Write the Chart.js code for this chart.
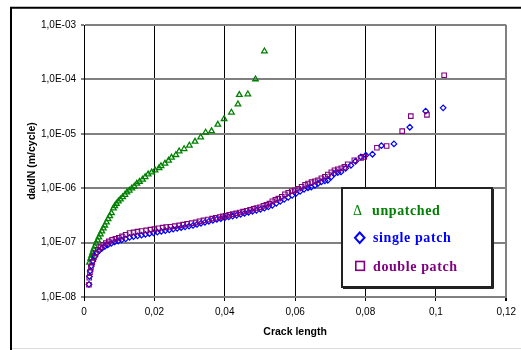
<!DOCTYPE html>
<html>
<head>
<meta charset="utf-8">
<script src="https://cdn.jsdelivr.net/npm/chart.js@4.4.0/dist/chart.umd.min.js"></script>
<style>
html,body{margin:0;padding:0;background:#fff;}
#wrap{position:relative;width:521px;height:350px;}
</style>
</head>
<body>
<div id="wrap"><canvas id="c" width="521" height="350"></canvas></div>
<script>
// ---- data ----
const seriesNames = ['unpatched', 'single patch', 'double patch'];

const unpatchedX = [0.00155,0.00189,0.00217,0.00245,0.00273,0.0031,0.00346,0.00386,0.00423,0.00465,0.00507,0.00549,0.00592,0.00639,0.00684,0.00732,0.0078,
  0.00837,0.00873,0.00921,0.00977,0.01034,0.01099,0.01163,0.0122,0.01287,0.0136,0.01428,0.01501,0.01577,0.01662,0.01738,0.01823,0.01924,0.0202,0.02132,0.02189,0.02301,0.02403,0.02487,0.02611,0.02704,
  0.02845,0.02994,0.03155,0.03316,0.03456,0.03625,0.03803,0.0398,0.04189,0.04375,0.04414,0.04656,0.04873,0.05127];
const unpatchedY = [4.3e-8,5.1e-8,5.8e-8,6.6e-8,7.5e-8,8.5e-8,9.7e-8,1.1e-7,1.25e-7,1.42e-7,1.61e-7,1.83e-7,2.07e-7,2.36e-7,2.71e-7,3.08e-7,3.49e-7,
  4.27e-7,4.7e-7,5.2e-7,5.74e-7,6.25e-7,6.9e-7,7.6e-7,8.4e-7,9.1e-7,9.95e-7,1.08e-6,1.22e-6,1.32e-6,1.44e-6,1.61e-6,1.8e-6,1.96e-6,2.14e-6,2.36e-6,2.56e-6,2.84e-6,3.22e-6,3.66e-6,4.09e-6,4.78e-6,
  5.27e-6,6.1e-6,7.2e-6,8.65e-6,1.06e-5,1.12e-5,1.48e-5,1.88e-5,2.47e-5,3.5e-5,5.2e-5,5.35e-5,1.01e-4,3.3e-4];

const singleX = [0.00141,0.00155,0.00177,0.00211,0.00254,0.0031,0.00366,0.00437,0.00507,0.00592,0.00676,0.00775,0.00873,0.00972,0.0107,0.01183,0.01296,0.01408,0.01521,0.01634,
  0.01746,0.01859,0.01972,0.02085,0.02197,0.0231,0.02423,0.02535,0.02648,0.02761,0.02873,0.02986,0.03099,0.03211,0.03324,0.03437,0.03549,0.03662,0.03775,0.03887,
  0.04,0.04113,0.04225,0.04338,0.04451,0.04563,0.04676,0.04789,0.04901,0.05014,0.05127,0.0524,0.05352,0.05465,0.05577,0.0569,0.05803,0.05915,0.06028,0.06141,
  0.06254,0.06366,0.06459,0.06563,0.06648,0.06746,0.06845,0.06929,0.07028,0.07118,0.07211,0.07304,0.07437,0.07586,0.07718,0.07868,0.08009,0.08197,0.08451,0.08808,
  0.09259,0.0971,0.10206];
const singleY = [1.7e-8,2.39e-8,3.01e-8,3.72e-8,4.6e-8,5.57e-8,6.46e-8,7.18e-8,7.82e-8,8.51e-8,9.08e-8,9.67e-8,1.03e-7,1.07e-7,1.12e-7,1.17e-7,1.25e-7,1.29e-7,1.33e-7,1.37e-7,
  1.42e-7,1.46e-7,1.51e-7,1.56e-7,1.61e-7,1.66e-7,1.71e-7,1.77e-7,1.83e-7,1.88e-7,1.95e-7,2.01e-7,2.07e-7,2.16e-7,2.26e-7,2.36e-7,2.46e-7,2.56e-7,2.67e-7,2.75e-7,
  2.85e-7,2.97e-7,3.08e-7,3.17e-7,3.31e-7,3.45e-7,3.6e-7,3.76e-7,3.92e-7,4.09e-7,4.3e-7,4.54e-7,4.84e-7,5.27e-7,5.74e-7,6.25e-7,6.8e-7,7.4e-7,8.05e-7,8.77e-7,
  9.55e-7,1.02e-6,1.05e-6,1.13e-6,1.22e-6,1.31e-6,1.37e-6,1.4e-6,1.62e-6,1.86e-6,1.94e-6,1.99e-6,2.32e-6,2.64e-6,3.13e-6,3.76e-6,4.04e-6,4.21e-6,6.04e-6,6.52e-6,
  1.32e-5,2.61e-5,3.0e-5];

const doubleX = [0.00141,0.00149,0.00169,0.00197,0.00234,0.00282,0.0033,0.00394,0.0047,0.00544,0.0062,0.00704,0.00797,0.00893,0.00986,0.01079,0.01183,0.01296,0.01408,0.01521,
  0.01634,0.01766,0.01887,0.02,0.02113,0.02234,0.02338,0.02451,0.02577,0.02704,0.02817,0.0293,0.03056,0.03175,0.03282,0.03394,0.03521,0.03642,0.03746,0.03859,
  0.03944,0.04028,0.04127,0.04225,0.04324,0.04423,0.04521,0.0462,0.04718,0.04817,0.04901,0.05,0.05099,0.05183,0.05268,0.05352,0.05437,0.05521,0.0562,0.0571,
  0.05803,0.05901,0.05992,0.06085,0.06183,0.06282,0.06366,0.06465,0.06563,0.06648,0.06746,0.06845,0.06929,0.07028,0.07118,0.07211,0.0731,0.074,0.07493,0.07682,
  0.07873,0.07963,0.08324,0.086,0.09042,0.09287,0.09746,0.10234];
const doubleY = [1.68e-8,2.26e-8,2.86e-8,3.54e-8,4.38e-8,5.41e-8,6.41e-8,7.4e-8,8.26e-8,9.14e-8,9.79e-8,1.052e-7,1.13e-7,1.18e-7,1.23e-7,1.3e-7,1.39e-7,1.5e-7,1.54e-7,1.59e-7,
  1.63e-7,1.68e-7,1.73e-7,1.77e-7,1.83e-7,1.88e-7,1.93e-7,1.96e-7,2.01e-7,2.07e-7,2.14e-7,2.21e-7,2.28e-7,2.35e-7,2.46e-7,2.56e-7,2.65e-7,2.76e-7,2.85e-7,2.96e-7,
  3.04e-7,3.1e-7,3.24e-7,3.34e-7,3.45e-7,3.57e-7,3.71e-7,3.84e-7,4.0e-7,4.18e-7,4.32e-7,4.45e-7,4.74e-7,4.94e-7,5.2e-7,5.74e-7,6.11e-7,6.44e-7,6.95e-7,7.73e-7,
  8.23e-7,8.77e-7,9.14e-7,9.75e-7,1.06e-6,1.15e-6,1.22e-6,1.29e-6,1.34e-6,1.4e-6,1.52e-6,1.62e-6,1.78e-6,1.96e-6,2.14e-6,2.23e-6,2.32e-6,2.46e-6,2.75e-6,3.27e-6,
  3.6e-6,3.76e-6,5.55e-6,5.98e-6,1.12e-5,2.11e-5,2.23e-5,1.19e-4];

const xTickValues = [0, 0.02, 0.04, 0.06, 0.08, 0.1, 0.12];
const xTickLabels = ['0', '0,02', '0,04', '0,06', '0,08', '0,1', '0,12'];
const yTickValues = [1e-8, 1e-7, 1e-6, 1e-5, 1e-4, 1e-3];
const yTickLabels = ['1,0E-08', '1,0E-07', '1,0E-06', '1,0E-05', '1,0E-04', '1,0E-03'];
const xTitle = 'Crack length';
const yTitle = 'da/dN (m/cycle)';

// ---- styling ----
const GREEN = '#008000', BLUE = '#0000ff', PURPLE = '#800080';
const SANS = '"Liberation Sans", Arial, sans-serif';
const SERIF = '"Liberation Serif", "Times New Roman", serif';

const toPts = (xs, ys) => xs.map((x, i) => ({x: x, y: ys[i]}));

const framePlugin = {
  id: 'frame',
  beforeDraw(chart) {
    const ctx = chart.ctx;
    ctx.save();
    ctx.fillStyle = '#fff';
    ctx.fillRect(0, 0, chart.width, chart.height);
    ctx.strokeStyle = '#000';
    ctx.lineWidth = 2;
    ctx.beginPath();
    ctx.moveTo(11, 350); ctx.lineTo(11, 7.7); ctx.lineTo(521, 7.7);
    ctx.stroke();
    ctx.strokeStyle = '#dcdcdc';
    ctx.lineWidth = 1;
    ctx.beginPath();
    ctx.moveTo(12, 348.5); ctx.lineTo(521, 348.5);
    ctx.stroke();
    ctx.restore();
  },
  afterDraw(chart) {
    const ctx = chart.ctx;
    ctx.save();
    // legend box
    const bx = 342, by = 188, bw = 150, bh = 99;
    ctx.fillStyle = '#fff';
    ctx.fillRect(bx, by, bw, bh);
    ctx.strokeStyle = '#222';
    ctx.lineWidth = 2;
    ctx.strokeRect(bx, by, bw, bh);
    ctx.lineWidth = 1;
    ctx.beginPath();
    ctx.moveTo(bx + bw + 1.5, by + 1); ctx.lineTo(bx + bw + 1.5, by + bh + 1.5); ctx.lineTo(bx + 1, by + bh + 1.5);
    ctx.stroke();

    const colors = [GREEN, BLUE, PURPLE];
    const baselines = [214.5, 242, 270.5];
    ctx.font = 'bold 14px ' + SERIF;
    if ('letterSpacing' in ctx) ctx.letterSpacing = '0.6px';
    ctx.textBaseline = 'alphabetic';
    ctx.textAlign = 'left';
    for (let i = 0; i < 3; i++) {
      ctx.fillStyle = colors[i];
      ctx.fillText(seriesNames[i], i === 0 ? 372 : 373, baselines[i]);
    }
    if ('letterSpacing' in ctx) ctx.letterSpacing = '0px';
    // markers
    ctx.fillStyle = GREEN;
    ctx.font = '14px ' + SERIF;
    ctx.fillText('\u0394', 353, baselines[0]);
    ctx.strokeStyle = BLUE; ctx.lineWidth = 2;
    ctx.beginPath();
    ctx.moveTo(359.7, 232.5); ctx.lineTo(364.5, 237.8); ctx.lineTo(359.7, 243); ctx.lineTo(355, 237.8); ctx.closePath();
    ctx.stroke();
    ctx.strokeStyle = PURPLE; ctx.lineWidth = 1.6;
    ctx.strokeRect(355.8, 261.5, 8.6, 8.8);
    ctx.restore();
  }
};

new Chart(document.getElementById('c'), {
  type: 'scatter',
  data: {
    datasets: [
      {label: seriesNames[0], data: toPts(unpatchedX, unpatchedY), pointStyle: 'triangle', pointRadius: 3.2,
       borderColor: GREEN, backgroundColor: 'rgba(0,0,0,0)', borderWidth: 1.3, order: 3},
      {label: seriesNames[1], data: toPts(singleX, singleY), pointStyle: 'rectRot', pointRadius: 2.8,
       borderColor: BLUE, backgroundColor: 'rgba(0,0,0,0)', borderWidth: 1.2, order: 2},
      {label: seriesNames[2], data: toPts(doubleX, doubleY), pointStyle: 'rect', pointRadius: 3.2,
       borderColor: PURPLE, backgroundColor: 'rgba(0,0,0,0)', borderWidth: 1.1, order: 1}
    ]
  },
  options: {
    responsive: false,
    animation: false,
    devicePixelRatio: 1,
    layout: {padding: {left: 0, top: 25, right: 11, bottom: 0}},
    plugins: {legend: {display: false}, tooltip: {enabled: false}},
    scales: {
      x: {
        type: 'linear', min: 0, max: 0.12,
        afterBuildTicks: s => { s.ticks = xTickValues.map(v => ({value: v})); },
        afterFit: s => { s.height = 53; },
        ticks: {callback: (v, i) => xTickLabels[i], color: '#000', font: {family: SANS, size: 10}, padding: 5, maxRotation: 0, autoSkip: false},
        grid: {
          color: c => (c.tick && c.tick.value >= 0.12) ? '#808080' : '#000',
          lineWidth: c => (c.tick && c.tick.value >= 0.12) ? 2 : 1,
          tickColor: '#000', tickLength: 4, drawTicks: true
        },
        border: {color: '#808080', width: 2},
        title: {display: true, text: xTitle, color: '#000', font: {family: SANS, size: 10.5, weight: 'bold'}, padding: {top: 0, bottom: 12}}
      },
      y: {
        type: 'logarithmic', min: 1e-8, max: 1e-3,
        afterBuildTicks: s => { s.ticks = yTickValues.map(v => ({value: v})); },
        afterFit: s => { s.width = 84; },
        ticks: {callback: (v, i) => yTickLabels[i], color: '#000', font: {family: SANS, size: 10}, padding: 5, autoSkip: false},
        grid: {color: '#808080', lineWidth: 2, tickColor: '#808080', tickLength: 3},
        border: {color: '#000', width: 1},
        title: {display: true, text: yTitle, color: '#000', font: {family: SANS, size: 10.5, weight: 'bold'}, padding: {top: 25.7, bottom: 0}}
      }
    }
  },
  plugins: [framePlugin]
});
</script>
</body>
</html>
